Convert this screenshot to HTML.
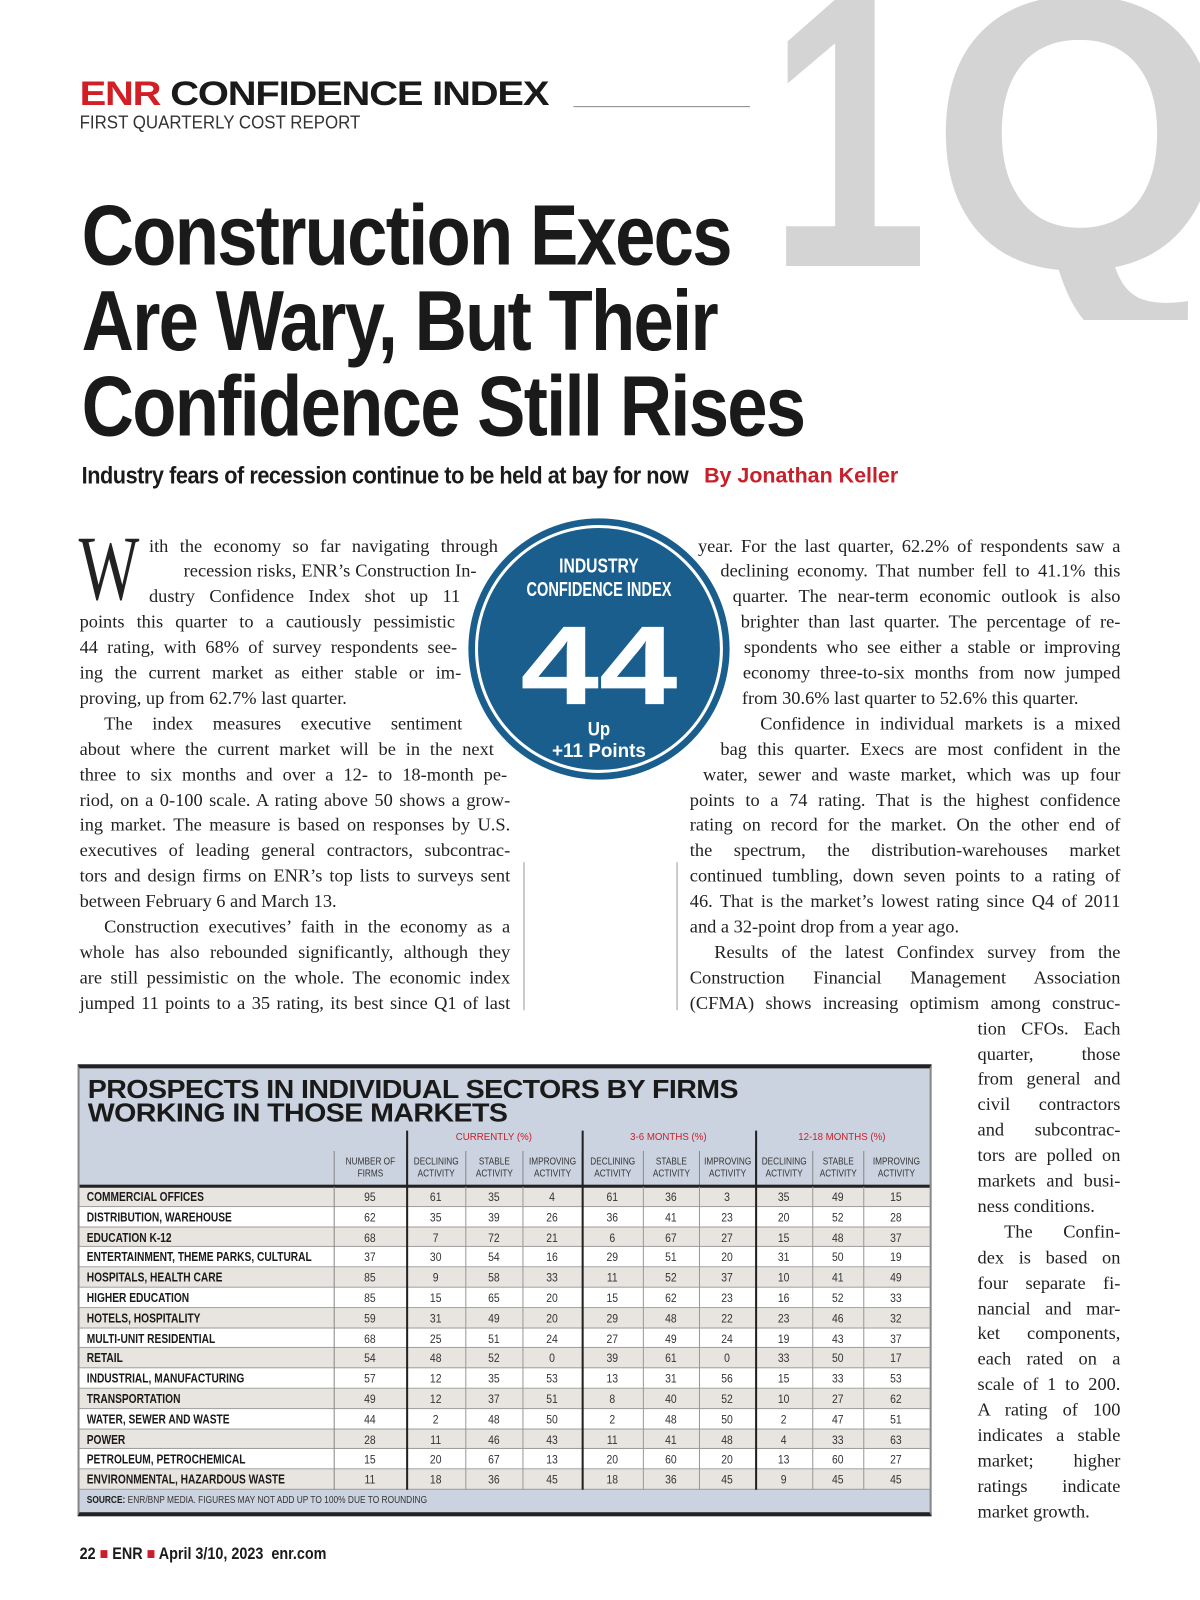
<!DOCTYPE html>
<html><head><meta charset="utf-8">
<style>
*{margin:0;padding:0;box-sizing:border-box}
body{width:1200px;height:1600px;background:#fff;position:relative;overflow:hidden;font-family:"Liberation Sans",sans-serif;color:#1a1a1a}
#wrap{position:absolute;left:0;top:0;width:1176px;height:1568px;transform:scale(1.0204);transform-origin:0 0}
.abs{position:absolute;white-space:nowrap}
.sq{display:inline-block;transform-origin:left center}
.ln{position:absolute;height:25px;line-height:25px;font-family:"Liberation Serif",serif;font-size:18px;text-align:justify;text-align-last:justify;white-space:nowrap;overflow:visible;color:#222}
.ln.last{text-align-last:left}
#tbl{position:absolute;left:76px;top:1043px;width:837px;height:443px;background:#ccd3e0;border-top:4px solid #222;border-bottom:4px solid #222;border-left:2px solid #888;border-right:2px solid #888}
</style></head><body>

<svg style="position:absolute;left:0;top:0" width="1200" height="320">
<text x="768" y="266" fill="#d4d4d4" font-family="Liberation Sans" font-weight="bold" font-size="390" textLength="160" lengthAdjust="spacingAndGlyphs">1</text>
<text x="930" y="268" fill="#d4d4d4" font-family="Liberation Sans" font-weight="bold" font-size="390" textLength="300" lengthAdjust="spacingAndGlyphs">Q</text>
</svg>

<div id="wrap">
<div class="abs" style="left:78px;top:72px;font-size:34px;line-height:40px;font-weight:900;letter-spacing:-1px"><span class="sq" style="transform:scaleX(1.15)"><span style="color:#d21f26">ENR</span> CONFIDENCE INDEX</span></div>
<div class="abs" style="left:562px;top:104px;width:173px;height:1px;background:#888"></div>
<div class="abs" style="left:78px;top:109px;font-size:18px;line-height:22px;color:#333"><span class="sq" style="transform:scaleX(0.92)">FIRST QUARTERLY COST REPORT</span></div>

<div class="abs" style="left:80px;top:188px;font-size:84px;line-height:84px;font-weight:bold;letter-spacing:-2px;color:#1a1a1a">
<div><span class="sq" style="transform:scaleX(0.845)">Construction Execs</span></div>
<div><span class="sq" style="transform:scaleX(0.845)">Are Wary, But Their</span></div>
<div><span class="sq" style="transform:scaleX(0.845)">Confidence Still Rises</span></div>
</div>

<div class="abs" style="left:80px;top:452px;font-size:24px;line-height:30px;font-weight:bold;letter-spacing:-0.5px"><span class="sq" style="transform:scaleX(0.885)">Industry fears of recession continue to be held at bay for now</span></div>
<div class="abs" style="left:690px;top:452px;font-size:21px;line-height:30px;font-weight:bold;color:#c8202a">By Jonathan Keller</div>

<svg style="position:absolute;left:455px;top:504px" width="264" height="264">
<circle cx="132" cy="132" r="128" fill="#1a5e8e"/>
<circle cx="132" cy="132" r="120" fill="none" stroke="#fff" stroke-width="3"/>
<text x="132" y="57" text-anchor="middle" fill="#fff" font-family="Liberation Sans" font-weight="bold" font-size="20" textLength="78" lengthAdjust="spacingAndGlyphs">INDUSTRY</text>
<text x="132" y="80" text-anchor="middle" fill="#fff" font-family="Liberation Sans" font-weight="bold" font-size="20" textLength="142" lengthAdjust="spacingAndGlyphs">CONFIDENCE INDEX</text>
<text x="132" y="186" text-anchor="middle" fill="#fff" font-family="Liberation Sans" font-weight="bold" font-size="110" textLength="154" lengthAdjust="spacingAndGlyphs">44</text>
<text x="132" y="217" text-anchor="middle" fill="#fff" font-family="Liberation Sans" font-weight="bold" font-size="19" textLength="22" lengthAdjust="spacingAndGlyphs">Up</text>
<text x="132" y="238" text-anchor="middle" fill="#fff" font-family="Liberation Sans" font-weight="bold" font-size="19" textLength="92" lengthAdjust="spacingAndGlyphs">+11 Points</text>
</svg>

<div class="abs" style="left:77px;top:518px;font-family:'Liberation Serif',serif;font-size:90px;line-height:80px;color:#222"><span class="sq" style="transform:scaleX(0.7)">W</span></div>
<div class="abs" style="left:513px;top:845px;width:1px;height:145px;background:#999"></div>
<div class="abs" style="left:663px;top:845px;width:1px;height:145px;background:#999"></div>

<div id="body-text"></div>

<div id="tbl">
<div class="abs" style="left:8px;top:10px;font-size:25px;line-height:23px;font-weight:900;letter-spacing:-0.5px;color:#1a1a1a;transform:scaleX(1.12);transform-origin:left top"><div>PROSPECTS IN INDIVIDUAL SECTORS BY FIRMS</div><div>WORKING IN THOSE MARKETS</div></div>
</div>

<div class="abs" style="left:78px;top:1513px;font-size:16px;line-height:22px;font-weight:bold"><span class="sq" style="transform:scaleX(0.88)">22 <span style="color:#c8202a">■</span> ENR <span style="color:#c8202a">■</span> April 3/10, 2023&nbsp; enr.com</span></div>
</div>

<script>
var lines=[
[146,488,"ith the economy so far navigating through",0],
[180,467,"recession risks, ENR’s Construction In-",0],
[146,451,"dustry Confidence Index shot up 11",0],
[78,446,"points this quarter to a cautiously pessimistic",0],
[78,448,"44 rating, with 68% of survey respondents see-",0],
[78,452,"ing the current market as either stable or im-",0],
[78,452,"proving, up from 62.7% last quarter.",1],
[102,453,"The index measures executive sentiment",0],
[78,484,"about where the current market will be in the next",0],
[78,497,"three to six months and over a 12- to 18-month pe-",0],
[78,500,"riod, on a 0-100 scale. A rating above 50 shows a grow-",0],
[78,500,"ing market. The measure is based on responses by U.S.",0],
[78,500,"executives of leading general contractors, subcontrac-",0],
[78,500,"tors and design firms on ENR’s top lists to surveys sent",0],
[78,500,"between February 6 and March 13.",1],
[102,500,"Construction executives’ faith in the economy as a",0],
[78,500,"whole has also rebounded significantly, although they",0],
[78,500,"are still pessimistic on the whole. The economic index",0],
[78,500,"jumped 11 points to a 35 rating, its best since Q1 of last",0]
];
var right=[
[684,"year. For the last quarter, 62.2% of respondents saw a",0],
[706,"declining economy. That number fell to 41.1% this",0],
[718,"quarter. The near-term economic outlook is also",0],
[726,"brighter than last quarter. The percentage of re-",0],
[729,"spondents who see either a stable or improving",0],
[728,"economy three-to-six months from now jumped",0],
[727,"from 30.6% last quarter to 52.6% this quarter.",1],
[745,"Confidence in individual markets is a mixed",0],
[706,"bag this quarter. Execs are most confident in the",0],
[689,"water, sewer and waste market, which was up four",0],
[676,"points to a 74 rating. That is the highest confidence",0],
[676,"rating on record for the market. On the other end of",0],
[676,"the spectrum, the distribution-warehouses market",0],
[676,"continued tumbling, down seven points to a rating of",0],
[676,"46. That is the market’s lowest rating since Q4 of 2011",0],
[676,"and a 32-point drop from a year ago.",1],
[700,"Results of the latest Confindex survey from the",0],
[676,"Construction Financial Management Association",0],
[676,"(CFMA) shows increasing optimism among construc-",0],
[958,"tion CFOs. Each",0],[958,"quarter, those",0],[958,"from general and",0],[958,"civil contractors",0],
[958,"and subcontrac-",0],[958,"tors are polled on",0],[958,"markets and busi-",0],[958,"ness conditions.",1],
[984,"The Confin-",0],[958,"dex is based on",0],[958,"four separate fi-",0],[958,"nancial and mar-",0],
[958,"ket components,",0],[958,"each rated on a",0],[958,"scale of 1 to 200.",0],[958,"A rating of 100",0],
[958,"indicates a stable",0],[958,"market; higher",0],[958,"ratings indicate",0],[958,"market growth.",1]
];
var bt=document.getElementById('body-text');
function addLine(l,r,t,last,i){
 var d=document.createElement('div');
 d.className='ln'+(last?' last':'');
 d.style.left=l+'px';d.style.width=(r-l)+'px';d.style.top=(522.5+i*24.9)+'px';
 d.textContent=t;
 
 
 bt.appendChild(d);
}
lines.forEach(function(a,i){addLine(a[0],a[1],a[2],a[3],i);});
right.forEach(function(a,i){addLine(a[0],1098,a[1],a[2],i);});

var sectors=["COMMERCIAL OFFICES","DISTRIBUTION, WAREHOUSE","EDUCATION K-12","ENTERTAINMENT, THEME PARKS, CULTURAL","HOSPITALS, HEALTH CARE","HIGHER EDUCATION","HOTELS, HOSPITALITY","MULTI-UNIT RESIDENTIAL","RETAIL","INDUSTRIAL, MANUFACTURING","TRANSPORTATION","WATER, SEWER AND WASTE","POWER","PETROLEUM, PETROCHEMICAL","ENVIRONMENTAL, HAZARDOUS WASTE"];
var firms=[95,62,68,37,85,85,59,68,54,57,49,44,28,15,11];
var curDecl=[61,35,7,30,9,15,31,25,48,12,12,2,11,20,18];
var curStab=[35,39,72,54,58,65,49,51,52,35,37,48,46,67,36];
var curImpr=[4,26,21,16,33,20,20,24,0,53,51,50,43,13,45];
var midDecl=[61,36,6,29,11,15,29,27,39,13,8,2,11,20,18];
var midStab=[36,41,67,51,52,62,48,49,61,31,40,48,41,60,36];
var midImpr=[3,23,27,20,37,23,22,24,0,56,52,50,48,20,45];
var lngDecl=[35,20,15,31,10,16,23,19,33,15,10,2,4,13,9];
var lngStab=[49,52,48,50,41,52,46,43,50,33,27,47,33,60,45];
var lngImpr=[15,28,37,19,49,33,32,37,17,53,62,51,63,27,45];
var groups=["CURRENTLY (%)","3-6 MONTHS (%)","12-18 MONTHS (%)"];
var subHeads=["NUMBER OF|FIRMS","DECLINING|ACTIVITY","STABLE|ACTIVITY","IMPROVING|ACTIVITY","DECLINING|ACTIVITY","STABLE|ACTIVITY","IMPROVING|ACTIVITY","DECLINING|ACTIVITY","STABLE|ACTIVITY","IMPROVING|ACTIVITY"];
var series=[firms,curDecl,curStab,curImpr,midDecl,midStab,midImpr,lngDecl,lngStab,lngImpr];

var T=document.getElementById('tbl');
var colEdges=[327,398,456,512,570,630,685,740,796,846,910];
var OX=78,OY=1047;
var rowTop=1163,rowH=19.8;
function el(tag,css,name){var e=document.createElement(tag);e.style.cssText=css;T.appendChild(e);return e;}
sectors.forEach(function(s,i){
 var y=rowTop+i*rowH-OY;
 el('div','position:absolute;left:0;top:'+y+'px;width:833px;height:'+rowH+'px;background:'+(i%2?'#fff':'#e8e5e0')+';border-bottom:1px solid #9a9a9a','table-row');
 var lab=el('div','position:absolute;left:7px;top:'+(y+2)+'px;font-size:12.5px;line-height:16px;font-weight:bold;white-space:nowrap;color:#1a1a1a;transform:scaleX(0.8);transform-origin:left center','sector-label');
 lab.textContent=s;
 series.forEach(function(arr,c){
  var x0=colEdges[c]-OX,x1=colEdges[c+1]-OX;
  var d=el('div','position:absolute;left:'+x0+'px;top:'+(y+3)+'px;width:'+(x1-x0)+'px;font-size:12px;line-height:15px;text-align:center;color:#333;transform:scaleX(0.85)','table-value');
  d.textContent=arr[i];
 });
});
subHeads.forEach(function(h,c){
 var x0=colEdges[c]-OX,x1=colEdges[c+1]-OX;
 var b=el('div','position:absolute;left:'+x0+'px;top:'+(1128-OY)+'px;width:'+(x1-x0)+'px;height:'+(rowTop-1128)+'px;border-left:1px solid #888','column-header');
 var p=h.split('|');
 b.innerHTML='<div style="font-size:9.5px;line-height:12px;text-align:center;padding-top:5px;color:#333;transform:scaleX(0.85)">'+p[0]+'<br>'+p[1]+'</div>';
});
groups.forEach(function(g,k){
 var x0=colEdges[1+k*3]-OX,x1=colEdges[4+k*3]-OX;
 var d=el('div','position:absolute;left:'+x0+'px;top:'+(1108-OY)+'px;width:'+(x1-x0)+'px;font-size:9.5px;line-height:14px;text-align:center;color:#c8202a','group-header');
 d.textContent=g;
 el('div','position:absolute;left:'+x0+'px;top:'+(1108-OY)+'px;width:2px;height:'+(1460-1108)+'px;background:#222','group-divider');
});
el('div','position:absolute;left:0;top:'+(rowTop-OY-2)+'px;width:833px;height:3px;background:#222','header-rule');
el('div','position:absolute;left:'+(colEdges[0]-OX)+'px;top:'+(rowTop-OY)+'px;width:1px;height:'+(rowH*15)+'px;background:#888','label-divider');
for(var c=2;c<10;c++){if(c==4||c==7)continue;el('div','position:absolute;left:'+(colEdges[c]-OX)+'px;top:'+(rowTop-OY)+'px;width:1px;height:'+(rowH*15)+'px;background:#999','column-divider');}
var src=el('div','position:absolute;left:7px;top:'+(1464-OY)+'px;font-size:10px;line-height:14px;color:#333;white-space:nowrap;transform:scaleX(0.82);transform-origin:left center','table-source');
src.innerHTML='<b style="color:#1a1a1a">SOURCE:</b> ENR/BNP MEDIA. FIGURES MAY NOT ADD UP TO 100% DUE TO ROUNDING';
</script>
</body></html>
